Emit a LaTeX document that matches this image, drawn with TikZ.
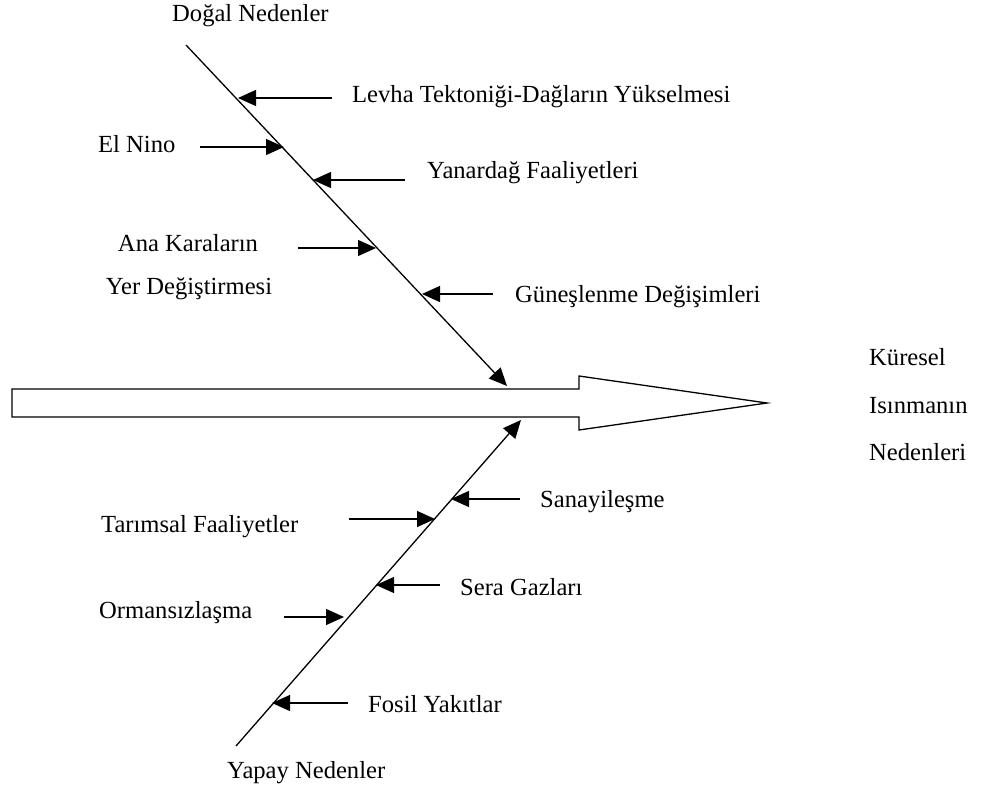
\documentclass[tikz,border=0pt]{standalone}
\usepackage{fontspec}
\setmainfont{Liberation Serif}
\usetikzlibrary{arrows.meta}
\begin{document}
\begin{tikzpicture}[x=1pt,y=-1pt,
  lbl/.style={anchor=base west,inner sep=0pt,font=\fontsize{24.6}{28}\selectfont},
  lblc/.style={anchor=base,inner sep=0pt,font=\fontsize{24.6}{28}\selectfont},
  cause/.style={line width=1.3pt,-{Triangle[length=18pt,width=16pt]}}]
\useasboundingbox (0,0) rectangle (987,790);
% big arrow
\draw[line width=1.3pt,fill=white] (12,389) -- (579,389) -- (579,376) -- (767,403) -- (579,430) -- (579,417) -- (12,417) -- cycle;
% spines
\coordinate (ntop) at (186,45);
\coordinate (nend) at (507,386);
\coordinate (ybot) at (236,746);
\coordinate (yend) at (521,420);
\draw[cause] (ntop) -- (nend);
\draw[cause] (ybot) -- (yend);
% labels
\node[lbl] (dogal) at (172,21) {Doğal Nedenler};
\node[lbl] (levha) at (352,102) {Levha Tektoniği-Dağların Yükselmesi};
\node[lbl] (elnino) at (98,152) {El Nino};
\node[lbl] (yanar) at (427,178) {Yanardağ Faaliyetleri};
\node[lblc] (ana1) at (188,251) {Ana Karaların};
\node[lblc] (ana2) at (189,294) {Yer Değiştirmesi};
\node[lbl] (gunes) at (515,302) {Güneşlenme Değişimleri};
\node[lbl] (kur1) at (869,365) {Küresel};
\node[lbl] (kur2) at (869,413) {Isınmanın};
\node[lbl] (kur3) at (869,460) {Nedenleri};
\node[lbl] (sanayi) at (540,507) {Sanayileşme};
\node[lbl] (tarim) at (101,532) {Tarımsal Faaliyetler};
\node[lbl] (sera) at (460,595) {Sera Gazları};
\node[lbl] (orman) at (99,618) {Ormansızlaşma};
\node[lbl] (fosil) at (368,712) {Fosil Yakıtlar};
\node[lbl] (yapay) at (227,778) {Yapay Nedenler};
% cause arrows (start points and tips on spines)
\coordinate (levhaS) at (332,98);   \coordinate (levhaT) at (238,98);
\coordinate (elS) at (200,147);     \coordinate (elT) at (284,147);
\coordinate (yanS) at (405,180);    \coordinate (yanT) at (313,180);
\coordinate (anaS) at (298,248);    \coordinate (anaT) at (376,248);
\coordinate (gunS) at (493,294);    \coordinate (gunT) at (422,294);
\coordinate (sanS) at (520,499);    \coordinate (sanT) at (451,499);
\coordinate (tarS) at (349,519);    \coordinate (tarT) at (435,519);
\coordinate (serS) at (440,585);    \coordinate (serT) at (376,585);
\coordinate (ormS) at (284,617);    \coordinate (ormT) at (344,617);
\coordinate (fosS) at (348,703);    \coordinate (fosT) at (272,703);
\foreach \a in {levha,el,yan,ana,gun,san,tar,ser,orm,fos}
  \draw[cause] (\a S) -- (\a T);
\end{tikzpicture}
\end{document}
